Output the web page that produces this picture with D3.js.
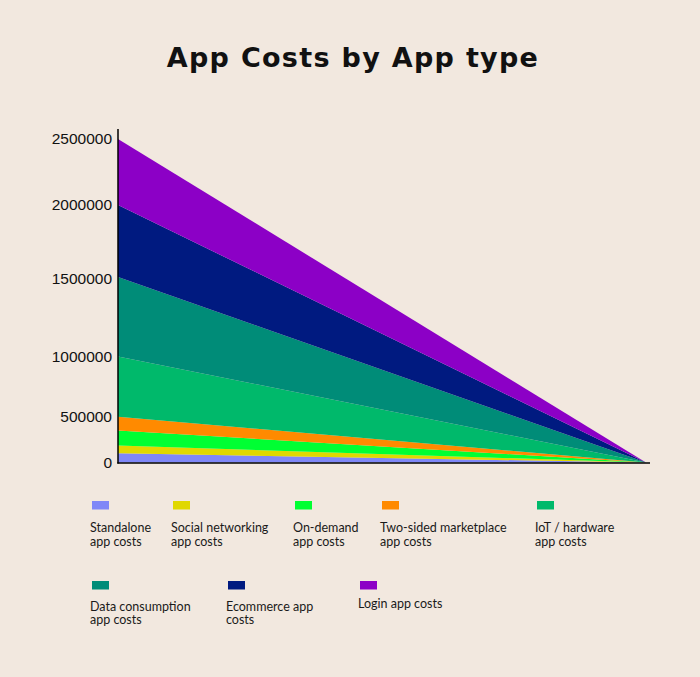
<!DOCTYPE html>
<html>
<head>
<meta charset="utf-8">
<script src="https://cdn.jsdelivr.net/npm/d3@7"></script>
<style>
  html, body { margin: 0; padding: 0; background: #f2e8df; }
  svg { display: block; }
</style>
</head>
<body>
<div id="chart"></div>
<script>
// ---- data ----
const seriesNames = [
  "Standalone app costs",
  "Social networking app costs",
  "On-demand app costs",
  "Two-sided marketplace app costs",
  "IoT / hardware app costs",
  "Data consumption app costs",
  "Ecommerce app costs",
  "Login app costs"
];
const legendLines = [
  ["Standalone", "app costs"],
  ["Social networking", "app costs"],
  ["On-demand", "app costs"],
  ["Two-sided marketplace", "app costs"],
  ["IoT / hardware", "app costs"],
  ["Data consumption", "app costs"],
  ["Ecommerce app", "costs"],
  ["Login app costs"]
];
const xPoints = [0, 1];
const startValues = [100000, 85000, 165000, 150000, 500000, 500000, 500000, 500000];
const endValues = [0, 0, 0, 0, 0, 0, 0, 0];
const yTicks = [0, 500000, 1000000, 1500000, 2000000, 2500000];
const colors = ["#7f87f7", "#e0d800", "#00ff33", "#ff8a00", "#00b96b", "#008c78", "#001a80", "#8c00c6"];

// ---- build table ----
const table = xPoints.map((x, i) => {
  const row = { x };
  seriesNames.forEach((n, j) => { row[n] = i === 0 ? startValues[j] : endValues[j]; });
  return row;
});

const W = 700, H = 677;
const svg = d3.select("#chart").append("svg").attr("width", W).attr("height", H);
svg.append("rect").attr("width", W).attr("height", H).attr("fill", "#f2e8df");

svg.append("text")
  .attr("x", 353).attr("y", 67)
  .attr("text-anchor", "middle")
  .attr("font-family", "'DejaVu Sans', sans-serif")
  .attr("font-weight", "bold")
  .attr("font-size", 27)
  .attr("letter-spacing", 1.3)
  .attr("fill", "#111")
  .text("App Costs by App type");

const x = d3.scaleLinear().domain([0, 1]).range([118, 646]);
const y = d3.scaleLinear()
  .domain(yTicks)
  .range([462.5, 416.7, 356.5, 277, 205, 139]);

const stack = d3.stack().keys(seriesNames);
const layers = stack(table);

const area = d3.area()
  .x(d => x(d.data.x))
  .y0(d => y(d[0]))
  .y1(d => y(d[1]));

svg.append("g").selectAll("path")
  .data(layers)
  .join("path")
  .attr("d", area)
  .attr("fill", (d, i) => colors[i]);

// axes
const yAxis = d3.axisLeft(y).tickValues(yTicks).tickSize(0).tickPadding(6).tickFormat(d3.format("d"));
const gy = svg.append("g").attr("transform", "translate(118,0)").call(yAxis);
gy.select(".domain").remove();
gy.selectAll("text")
  .attr("font-family", "'Liberation Sans', Arial, sans-serif")
  .attr("font-size", 15.5)
  .attr("fill", "#111");
gy.selectAll(".tick").filter(d => d === 1500000).select("text").attr("dy", "0.45em");

svg.append("line").attr("x1", 118).attr("x2", 118).attr("y1", 129).attr("y2", 463.5)
  .attr("stroke", "#000").attr("stroke-width", 1.5);
svg.append("line").attr("x1", 117.3).attr("x2", 650).attr("y1", 463).attr("y2", 463)
  .attr("stroke", "#000").attr("stroke-width", 1.5);

// legend
const legendPos = [
  [91, 501], [172, 501], [294, 501], [381, 501], [536, 501],
  [91, 581], [227, 581], [359, 581]
];
const lg = svg.append("g");
seriesNames.forEach((n, i) => {
  const [lx, ly] = legendPos[i];
  lg.append("rect").attr("x", lx + 1).attr("y", ly).attr("width", 17).attr("height", 8.5).attr("fill", colors[i]);
  const t = lg.append("text")
    .attr("x", lx - 1)
    .attr("font-family", "Lato, sans-serif")
    .attr("font-size", 12.5)
    .attr("fill", "#1a1a1a");
  const lines = legendLines[i];
  const baseY = lines.length === 1 ? ly + 27 : (i < 5 ? ly + 31 : ly + 29.5);
  lines.forEach((s, k) => {
    t.append("tspan").attr("x", lx - 1).attr("y", baseY + k * 13.5).text(s);
  });
});
</script>
</body>
</html>
